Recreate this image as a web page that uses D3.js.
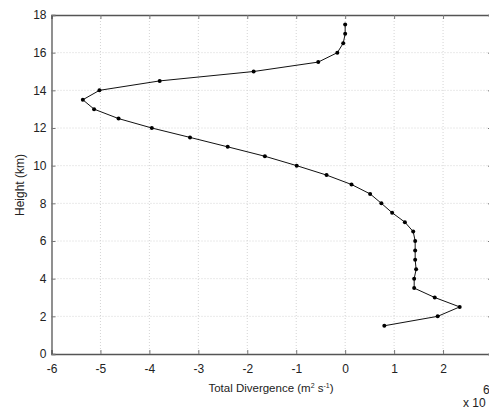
<!DOCTYPE html>
<html>
<head>
<meta charset="utf-8">
<script src="https://cdn.jsdelivr.net/npm/d3@7"></script>
<style>
  body { margin: 0; background: #fff; }
  text { font-family: "Liberation Sans", Arial, sans-serif; fill: #222; }
</style>
</head>
<body>
<div id="chart"></div>
<script>
// profile of total divergence (x 10^6 m^2 s^-1) against height (km)
let heights = [1.5, 2, 2.5, 3, 3.5, 4, 4.5, 5, 5.5, 6, 6.5, 7, 7.5, 8, 8.5, 9, 9.5, 10,
    10.5, 11, 11.5, 12, 12.5, 13, 13.5, 14, 14.5, 15, 15.5, 16, 16.5, 17, 17.5];
let divergence = [0.80, 1.89, 2.34, 1.83, 1.41, 1.41, 1.45, 1.43, 1.43, 1.43, 1.39, 1.22, 0.96, 0.74, 0.51, 0.13, -0.38, -0.99,
    -1.64, -2.4, -3.17, -3.95, -4.63, -5.13, -5.36, -5.02, -3.79, -1.87, -0.55, -0.16, -0.04, 0.0, 0.0];
let xTicks = [-6, -5, -4, -3, -2, -1, 0, 1, 2, 3];
let yTicks = [0, 2, 4, 6, 8, 10, 12, 14, 16, 18];

let data = heights.map((h, i) => ({h: h, v: divergence[i]}));

let margin = {top: 15, right: -3, bottom: 56, left: 51.5};
let W = 489, H = 410;
let width = W - margin.left - margin.right;
let height = H - margin.top - margin.bottom;

let svg = d3.select("#chart").append("svg")
    .attr("width", W)
    .attr("height", H);

let g = svg.append("g")
    .attr("transform", `translate(${margin.left}, ${margin.top})`);

let x = d3.scaleLinear().domain([-6, 3]).range([0, width]);
let y = d3.scaleLinear().domain([0, 18]).range([height, 0]);

// plain hyphen for negatives, like the original
let fmt = d => String(d);

// grid
g.selectAll(".gx").data(xTicks.slice(1, -1)).enter().append("line")
    .attr("x1", d => x(d)).attr("x2", d => x(d))
    .attr("y1", 0).attr("y2", height)
    .attr("stroke", "#d4d4d4").attr("stroke-dasharray", "1,2");
g.selectAll(".gy").data(yTicks.slice(1, -1)).enter().append("line")
    .attr("y1", d => y(d)).attr("y2", d => y(d))
    .attr("x1", 0).attr("x2", width)
    .attr("stroke", "#d4d4d4").attr("stroke-dasharray", "1,2");

// axes
let xAxis = g.append("g")
    .attr("transform", `translate(0, ${height})`)
    .call(d3.axisBottom(x).tickValues(xTicks).tickSize(-4).tickPadding(10).tickFormat(fmt));
let xTop = g.append("g")
    .call(d3.axisTop(x).tickValues(xTicks).tickSize(-4).tickFormat(""));
let yAxis = g.append("g")
    .call(d3.axisLeft(y).tickValues(yTicks).tickSize(-4).tickPadding(5).tickFormat(fmt));
let yRight = g.append("g")
    .attr("transform", `translate(${width}, 0)`)
    .call(d3.axisRight(y).tickValues(yTicks).tickSize(-4).tickFormat(""));

[xAxis, xTop, yAxis, yRight].forEach(a => {
    a.select(".domain").attr("stroke", "#555").attr("stroke-width", 1.3);
    a.selectAll(".tick line").attr("stroke", "#777");
    a.selectAll(".tick text").attr("font-size", 12).attr("fill", "#222")
        .style("font-family", "Liberation Sans, Arial, sans-serif");
});

// profile line
let line = d3.line().x(d => x(d.v)).y(d => y(d.h));
g.append("path")
    .datum(data)
    .attr("d", line)
    .attr("fill", "none")
    .attr("stroke", "#111")
    .attr("stroke-width", 1);

g.selectAll(".pt").data(data).enter().append("circle")
    .attr("cx", d => x(d.v))
    .attr("cy", d => y(d.h))
    .attr("r", 2)
    .attr("fill", "#000");

// labels
svg.append("text")
    .attr("x", 271).attr("y", 392)
    .attr("text-anchor", "middle")
    .attr("font-size", 11.5)
    .html("Total Divergence (m<tspan font-size='7' dy='-4'>2</tspan><tspan dy='4'> s</tspan><tspan font-size='7' dy='-4'>-1</tspan><tspan dy='4'>)</tspan>");

svg.append("text")
    .attr("transform", "translate(24, 185) rotate(-90)")
    .attr("text-anchor", "middle")
    .attr("font-size", 12)
    .text("Height (km)");

svg.append("text")
    .attr("x", 483).attr("y", 394)
    .attr("font-size", 12)
    .text("6");
svg.append("text")
    .attr("x", 463).attr("y", 407)
    .attr("font-size", 12)
    .text("x 10");
</script>
</body>
</html>
